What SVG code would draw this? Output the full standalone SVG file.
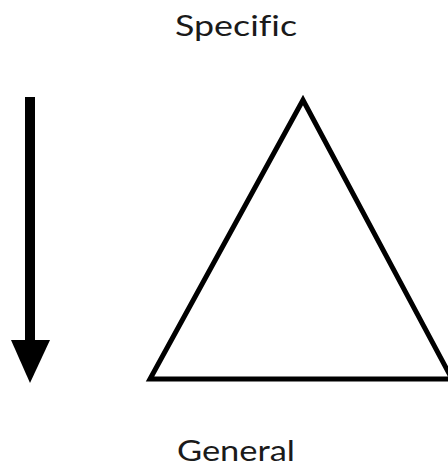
<svg xmlns="http://www.w3.org/2000/svg" width="448" height="467" viewBox="0 0 448 467">
<style>
.lbl{font-family:Lato,"Open Sans",sans-serif;font-size:29px;fill:#1a1a1a;text-anchor:middle;font-variant-ligatures:none;font-feature-settings:"liga" 0}
</style>
<rect width="448" height="467" fill="#fff"/>
<g id="specific"><text class="lbl" x="236" y="36" textLength="122" lengthAdjust="spacingAndGlyphs">Specific</text></g>
<g id="general"><text class="lbl" x="236" y="461" textLength="118" lengthAdjust="spacingAndGlyphs">General</text></g>
<g id="triangle"><polygon points="303,100 150,379 452,379" fill="none" stroke="#000" stroke-width="5" stroke-linejoin="miter"/></g>
<g id="connectors">
<line x1="30" y1="97" x2="30" y2="345" stroke="#000" stroke-width="10"/>
<polygon points="11,340 50,340 30,383" fill="#000"/>
</g>
</svg>
